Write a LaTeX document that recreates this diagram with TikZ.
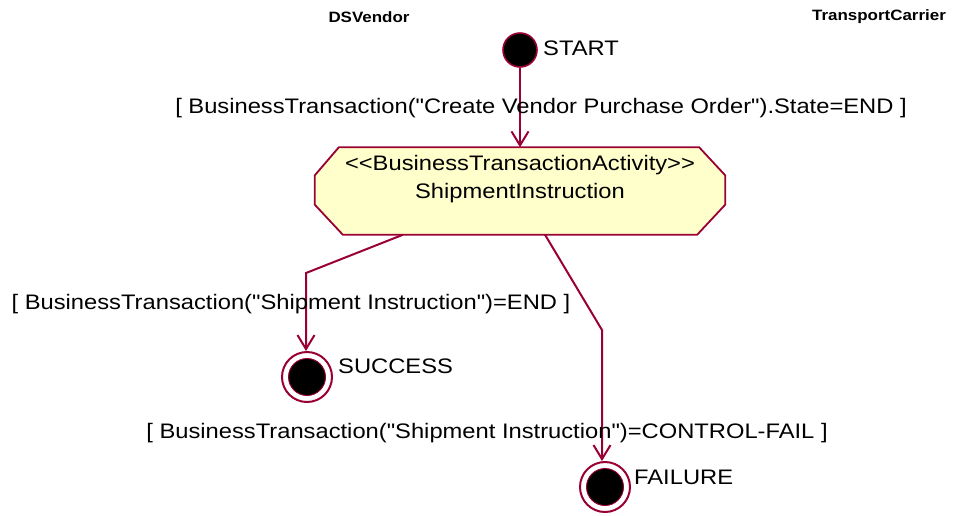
\documentclass[tikz,border=0pt]{standalone}
\usepackage{fontspec}
\setmainfont{Liberation Sans}[FakeStretch=1.13,Ligatures=TeXOff]
\usetikzlibrary{arrows.meta,calc}
\definecolor{umlred}{HTML}{990033}
\definecolor{umlfill}{HTML}{FFFFCC}
\tikzset{
  flow/.style={draw=umlred,line width=2pt,-{Straight Barb[length=14pt,width=17pt,line width=2pt]}},
  lbl/.style={font=\fontsize{21}{24}\selectfont,inner sep=0pt},
  swim/.style={font=\fontsize{15}{17}\selectfont\bfseries,inner sep=0pt},
  initstate/.style={circle,fill=black,draw=umlred,line width=1.6pt,minimum size=34pt,inner sep=0pt},
  finalouter/.style={circle,fill=white,draw=umlred,line width=2pt,minimum size=50pt,inner sep=0pt},
  finalinner/.style={circle,fill=black,draw=umlred,line width=0.9pt,minimum size=37pt,inner sep=0pt},
  actbox/.style={rectangle,draw=none,minimum width=410pt,minimum height=87pt,inner sep=0pt},
  actshape/.style={draw=umlred,fill=umlfill,line width=1.8pt},
}
\begin{document}
\begin{tikzpicture}[x=1pt,y=-1pt]
\useasboundingbox (0,0) rectangle (956,515);
\node[swim] (vendor) at (369,17) {DSVendor};
\node[swim] (carrier) at (879,17) {TransportCarrier};

\node[initstate] (start) at (520,50) {};
\node[lbl,anchor=west] (startlbl) at (543,48) {START};

\node[actbox] (act) at (520,191) {};
\draw[actshape] ($(act.north west)+(24,0)$) -- ($(act.north east)+(-26,0)$)
  -- ($(act.north east)+(0,28)$) -- ($(act.south east)+(0,-30)$)
  -- ($(act.south east)+(-28,0)$) -- ($(act.south west)+(28,0)$)
  -- ($(act.south west)+(0,-30)$) -- ($(act.north west)+(0,28)$) -- cycle;
\node[font=\fontsize{21}{28}\selectfont,inner sep=0pt,align=center] (acttext) at (520,179) {<<BusinessTransactionActivity>>\\ShipmentInstruction};

\node[finalouter] (succ) at (307,377) {};
\node[finalinner] (succin) at (succ.center) {};
\node[lbl,anchor=west] (succlbl) at (338,366) {SUCCESS};

\node[finalouter] (fail) at (605,487) {};
\node[finalinner] (failin) at (fail.center) {};
\node[lbl,anchor=west] (faillbl) at (634,477) {FAILURE};

\coordinate (sbend) at (306,273);
\coordinate (fbend) at (602,330);

\draw[flow] (start) -- (act.north);
\draw[flow] ($(act.south)+(-117,0)$) -- (sbend) -- (succ.north -| sbend);
\draw[flow] ($(act.south)+(25,0)$) -- (fbend) -- (fail.north -| fbend);

\node[lbl] (l1) at (541,108) {[ BusinessTransaction("Create Vendor Purchase Order").State=END ]};
\node[lbl] (l2) at (291,304) {[ BusinessTransaction("Shipment Instruction")=END ]};
\node[lbl] (l3) at (487,433) {[ BusinessTransaction("Shipment Instruction")=CONTROL-FAIL ]};
\end{tikzpicture}
\end{document}
